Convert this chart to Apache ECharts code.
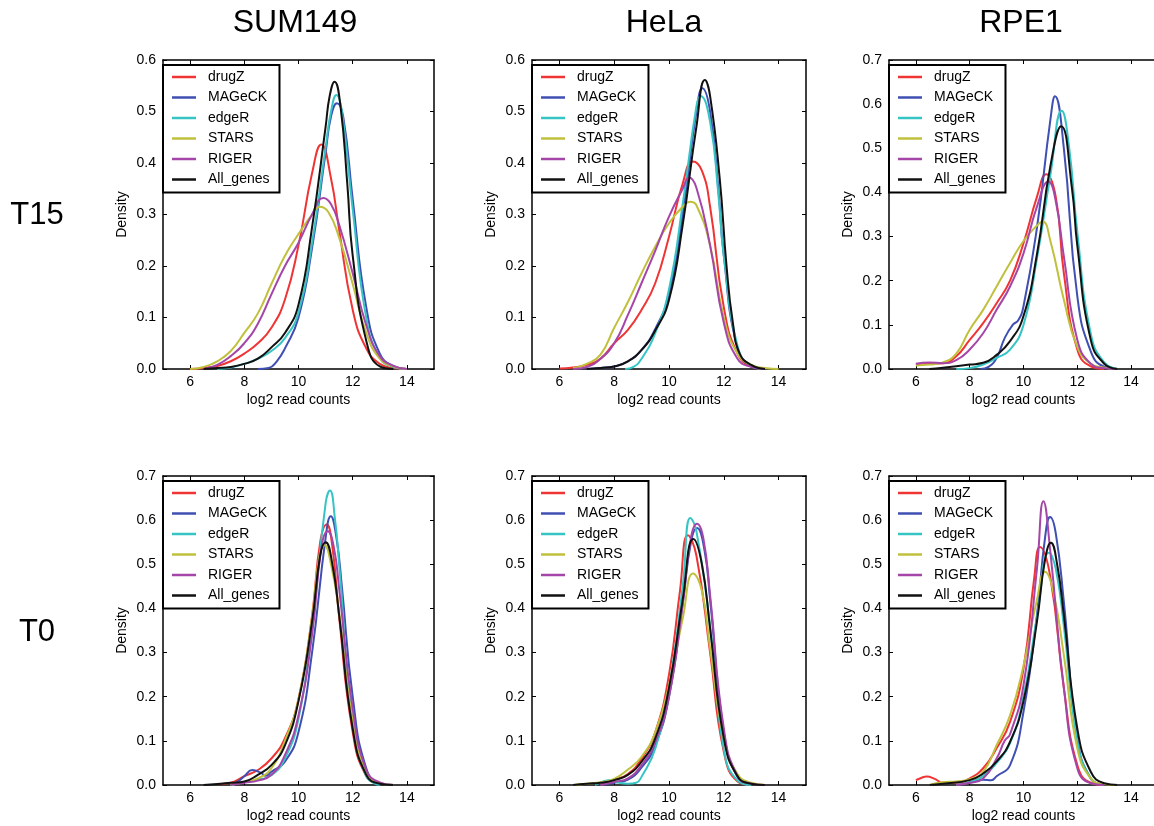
<!DOCTYPE html>
<html><head><meta charset="utf-8">
<script src="https://cdn.jsdelivr.net/npm/echarts@6/dist/echarts.min.js"></script>
<style>html,body{margin:0;padding:0;background:#fff;overflow:hidden;width:1154px;height:826px}#c{width:1200px;height:826px}</style>
</head><body><div id="c"></div>
<script>
// ---------- DATA ----------
const methods = ['drugZ', 'MAGeCK', 'edgeR', 'STARS', 'RIGER', 'All_genes'];
const cellLines = ['SUM149', 'HeLa', 'RPE1'];
const timepoints = ['T15', 'T0'];
const xTicks = [6, 8, 10, 12, 14];
const yMaxT15 = [0.6, 0.6, 0.7];
const yMaxT0 = [0.7, 0.7, 0.7];

// T15 SUM149
const T15_SUM149_drugZ = [[6,0],[6.5,0.002],[7,0.006],[7.5,0.015],[8,0.03],[8.5,0.05],[9,0.08],[9.5,0.135],[10,0.24],[10.5,0.38],[10.84,0.436],[11.2,0.37],[11.5,0.27],[12,0.115],[12.5,0.04],[13,0.01],[13.5,0.002],[14,0]];
const T15_SUM149_MAGeCK = [[8.5,0],[8.9,0.002],[9.2,0.015],[9.5,0.04],[10,0.1],[10.5,0.235],[11,0.42],[11.2,0.49],[11.42,0.516],[11.65,0.49],[12,0.33],[12.5,0.12],[13,0.03],[13.5,0.006],[14,0]];
const T15_SUM149_edgeR = [[7,0],[7.5,0.003],[8,0.01],[8.5,0.02],[9,0.035],[9.5,0.06],[10,0.11],[10.5,0.245],[11,0.43],[11.2,0.5],[11.4,0.532],[11.6,0.5],[12,0.31],[12.5,0.1],[13,0.022],[13.5,0.004],[14,0]];
const T15_SUM149_STARS = [[6,0],[6.5,0.004],[7,0.015],[7.5,0.035],[8,0.07],[8.5,0.108],[9,0.165],[9.5,0.22],[10,0.262],[10.5,0.3],[10.78,0.315],[11.1,0.305],[11.5,0.255],[12,0.165],[12.5,0.07],[13,0.02],[13.5,0.005],[14,0]];
const T15_SUM149_RIGER = [[6.5,0],[7,0.008],[7.5,0.025],[8,0.05],[8.5,0.088],[9,0.145],[9.5,0.2],[10,0.245],[10.5,0.3],[10.92,0.332],[11.2,0.32],[11.5,0.28],[12,0.186],[12.5,0.085],[13,0.025],[13.5,0.006],[14,0]];
const T15_SUM149_All_genes = [[6.5,0],[7,0.002],[7.5,0.004],[8,0.01],[8.5,0.02],[9,0.042],[9.5,0.07],[10,0.125],[10.5,0.275],[11,0.47],[11.15,0.53],[11.33,0.558],[11.55,0.51],[11.8,0.36],[12,0.22],[12.5,0.055],[13,0.005],[13.5,0]];

// T15 HeLa
const T15_HeLa_drugZ = [[6,0.001],[6.5,0.003],[7,0.008],[7.5,0.02],[8,0.05],[8.5,0.076],[9,0.115],[9.5,0.167],[10,0.257],[10.5,0.36],[10.87,0.403],[11.2,0.385],[11.5,0.315],[12,0.12],[12.5,0.03],[13,0.005],[13.5,0]];
const T15_HeLa_MAGeCK = [[7,0],[7.5,0.002],[8,0.005],[8.5,0.015],[9,0.037],[9.5,0.078],[10,0.145],[10.5,0.3],[11,0.5],[11.22,0.545],[11.5,0.5],[11.8,0.35],[12,0.22],[12.5,0.04],[13,0.006],[13.5,0]];
const T15_HeLa_edgeR = [[8.4,0],[8.7,0.004],[9,0.02],[9.5,0.07],[10,0.155],[10.5,0.32],[11,0.51],[11.15,0.53],[11.5,0.48],[11.8,0.34],[12,0.22],[12.5,0.045],[13,0.006],[13.5,0]];
const T15_HeLa_STARS = [[6.5,0.002],[7,0.01],[7.5,0.028],[8,0.08],[8.5,0.13],[9,0.186],[9.5,0.238],[10,0.283],[10.5,0.315],[10.77,0.325],[11,0.318],[11.5,0.24],[12,0.1],[12.5,0.03],[13,0.008],[13.5,0.002],[14,0]];
const T15_HeLa_RIGER = [[6.5,0],[7,0.004],[7.5,0.02],[8,0.05],[8.5,0.105],[9,0.167],[9.5,0.23],[10,0.296],[10.5,0.35],[10.73,0.372],[11,0.352],[11.5,0.24],[12,0.09],[12.5,0.02],[13,0.004],[13.5,0]];
const T15_HeLa_All_genes = [[7,0],[7.5,0.002],[8,0.005],[8.5,0.015],[9,0.037],[9.5,0.075],[10,0.134],[10.5,0.28],[11,0.47],[11.31,0.561],[11.5,0.53],[11.85,0.37],[12.1,0.2],[12.33,0.09],[12.58,0.03],[13,0.008],[13.5,0]];

// T15 RPE1
const T15_RPE1_drugZ = [[6,0.01],[6.5,0.012],[7,0.013],[7.5,0.029],[8,0.066],[8.5,0.104],[9,0.149],[9.5,0.2],[10,0.285],[10.5,0.39],[10.84,0.441],[11.2,0.39],[11.5,0.217],[12,0.044],[12.5,0.006],[13,0]];
const T15_RPE1_MAGeCK = [[8.4,0],[8.7,0.005],[9,0.025],[9.3,0.07],[9.6,0.1],[9.8,0.11],[10,0.142],[10.5,0.32],[11,0.565],[11.17,0.618],[11.5,0.5],[12,0.165],[12.5,0.04],[13,0.005],[13.5,0]];
const T15_RPE1_edgeR = [[7.5,0],[8,0.002],[8.5,0.01],[9,0.025],[9.5,0.044],[10,0.1],[10.5,0.25],[11,0.44],[11.42,0.585],[11.7,0.5],[12,0.31],[12.5,0.08],[13,0.015],[13.5,0]];
const T15_RPE1_STARS = [[6,0.008],[6.5,0.01],[7,0.015],[7.5,0.035],[8,0.089],[8.5,0.134],[9,0.187],[9.5,0.24],[10,0.29],[10.5,0.325],[10.71,0.334],[11,0.29],[11.5,0.157],[12,0.05],[12.5,0.012],[13,0.003],[13.5,0]];
const T15_RPE1_RIGER = [[6,0.012],[6.5,0.015],[7,0.013],[7.5,0.02],[8,0.044],[8.5,0.081],[9,0.134],[9.5,0.187],[10,0.262],[10.5,0.368],[10.93,0.425],[11.2,0.38],[11.5,0.255],[12,0.066],[12.5,0.012],[13,0.002],[13.5,0]];
const T15_RPE1_All_genes = [[6.5,0],[7,0.003],[8,0.01],[8.5,0.014],[9,0.032],[9.5,0.063],[10,0.12],[10.5,0.26],[11,0.46],[11.4,0.55],[11.8,0.41],[12,0.28],[12.5,0.066],[13,0.012],[13.5,0]];

// T0 SUM149
const T0_SUM149_drugZ = [[7,0.002],[7.5,0.005],[8,0.02],[8.5,0.034],[9,0.06],[9.5,0.106],[10,0.195],[10.5,0.383],[10.8,0.55],[11.04,0.59],[11.25,0.54],[11.5,0.38],[12,0.12],[12.5,0.02],[13,0.002]];
const T0_SUM149_MAGeCK = [[7.5,0],[7.7,0.005],[8,0.02],[8.3,0.034],[8.6,0.028],[8.8,0.021],[9,0.03],[9.5,0.053],[10,0.12],[10.5,0.3],[11,0.56],[11.19,0.609],[11.4,0.56],[11.6,0.45],[12,0.2],[12.5,0.038],[13,0.004],[13.5,0]];
const T0_SUM149_edgeR = [[7.5,0],[8,0.006],[8.5,0.012],[9,0.022],[9.5,0.06],[10,0.15],[10.5,0.36],[11,0.638],[11.16,0.667],[11.35,0.6],[11.5,0.5],[12,0.143],[12.5,0.02],[13,0]];
const T0_SUM149_STARS = [[7.5,0],[8,0.007],[8.5,0.015],[9,0.038],[9.5,0.1],[10,0.195],[10.5,0.38],[10.75,0.51],[10.96,0.543],[11.2,0.5],[11.5,0.39],[12,0.143],[12.5,0.03],[13,0.004],[13.5,0]];
const T0_SUM149_RIGER = [[7.5,0],[8,0.005],[8.5,0.01],[9,0.023],[9.5,0.068],[10,0.158],[10.5,0.34],[10.85,0.54],[11.08,0.575],[11.3,0.54],[11.5,0.445],[12,0.173],[12.5,0.034],[13,0.006],[13.5,0]];
const T0_SUM149_All_genes = [[6.5,0],[7,0.002],[7.5,0.005],[8,0.008],[8.5,0.023],[9,0.045],[9.5,0.09],[10,0.19],[10.5,0.37],[10.8,0.52],[11.0,0.55],[11.25,0.5],[11.5,0.385],[12,0.128],[12.5,0.023],[13,0.003],[13.5,0]];

// T0 HeLa
const T0_HeLa_drugZ = [[7.5,0],[8,0.012],[8.5,0.025],[9,0.06],[9.5,0.12],[10,0.25],[10.4,0.44],[10.69,0.566],[11,0.52],[11.5,0.3],[12,0.075],[12.5,0.008],[13,0]];
const T0_HeLa_MAGeCK = [[7.5,0],[8,0.005],[8.5,0.012],[9,0.04],[9.5,0.09],[10,0.2],[10.5,0.41],[10.8,0.55],[11.02,0.582],[11.3,0.53],[11.5,0.42],[12,0.12],[12.5,0.018],[13,0.002]];
const T0_HeLa_edgeR = [[7.3,0],[7.6,0.008],[7.8,0.011],[8.1,0.006],[8.5,0.003],[8.8,0.005],[9,0.019],[9.5,0.083],[10,0.22],[10.5,0.45],[10.78,0.605],[11,0.575],[11.5,0.36],[12,0.08],[12.5,0.01],[13,0]];
const T0_HeLa_STARS = [[6.5,0],[7,0.003],[7.5,0.006],[8,0.014],[8.5,0.035],[9,0.064],[9.5,0.12],[10,0.226],[10.5,0.377],[10.88,0.479],[11.2,0.44],[11.5,0.31],[12,0.106],[12.5,0.025],[13,0.005],[13.5,0]];
const T0_HeLa_RIGER = [[7.5,0],[8,0.007],[8.5,0.015],[9,0.045],[9.5,0.097],[10,0.2],[10.5,0.41],[10.8,0.56],[11.02,0.592],[11.25,0.56],[11.5,0.43],[12,0.128],[12.5,0.02],[13,0.003],[13.5,0]];
const T0_HeLa_All_genes = [[6.5,0],[7,0.003],[7.5,0.005],[8,0.011],[8.5,0.023],[9,0.053],[9.5,0.106],[10,0.22],[10.5,0.42],[10.89,0.557],[11.2,0.5],[11.5,0.355],[12,0.106],[12.5,0.02],[13,0.003],[13.5,0]];

// T0 RPE1
const T0_RPE1_drugZ = [[6,0.011],[6.2,0.016],[6.4,0.019],[6.7,0.014],[7,0.005],[7.5,0.005],[8,0.015],[8.5,0.038],[9,0.083],[9.5,0.143],[10,0.264],[10.4,0.47],[10.61,0.539],[11,0.47],[11.5,0.22],[12,0.045],[12.5,0.005],[13,0]];
const T0_RPE1_MAGeCK = [[7.5,0],[8,0.005],[8.5,0.012],[8.8,0.011],[9,0.02],[9.5,0.045],[10,0.166],[10.5,0.385],[10.8,0.56],[10.99,0.607],[11.2,0.57],[11.5,0.415],[12,0.106],[12.5,0.015],[13,0]];
const T0_RPE1_edgeR = [[7.5,0],[8,0.007],[8.5,0.02],[9,0.05],[9.5,0.095],[10,0.2],[10.5,0.38],[10.95,0.526],[11.2,0.49],[11.5,0.36],[12,0.1],[12.5,0.015],[13,0]];
const T0_RPE1_STARS = [[6.5,0],[7,0.006],[7.5,0.008],[8,0.013],[8.5,0.03],[9,0.09],[9.5,0.158],[10,0.27],[10.5,0.42],[10.8,0.483],[11.1,0.44],[11.5,0.294],[12,0.083],[12.5,0.015],[13,0.002],[13.5,0]];
const T0_RPE1_RIGER = [[7.5,0],[8,0.005],[8.5,0.015],[9,0.06],[9.3,0.1],[9.5,0.115],[10,0.226],[10.5,0.49],[10.74,0.643],[11,0.527],[11.5,0.22],[12,0.038],[12.5,0.004],[13,0]];
const T0_RPE1_All_genes = [[6.5,0],[7,0.003],[8,0.011],[8.5,0.026],[9,0.053],[9.5,0.098],[10,0.19],[10.5,0.37],[10.8,0.51],[11.02,0.549],[11.25,0.5],[11.5,0.385],[12,0.128],[12.5,0.03],[13,0.004],[13.5,0]];

const panelData = [
  [[T15_SUM149_drugZ,T15_SUM149_MAGeCK,T15_SUM149_edgeR,T15_SUM149_STARS,T15_SUM149_RIGER,T15_SUM149_All_genes],
   [T15_HeLa_drugZ,T15_HeLa_MAGeCK,T15_HeLa_edgeR,T15_HeLa_STARS,T15_HeLa_RIGER,T15_HeLa_All_genes],
   [T15_RPE1_drugZ,T15_RPE1_MAGeCK,T15_RPE1_edgeR,T15_RPE1_STARS,T15_RPE1_RIGER,T15_RPE1_All_genes]],
  [[T0_SUM149_drugZ,T0_SUM149_MAGeCK,T0_SUM149_edgeR,T0_SUM149_STARS,T0_SUM149_RIGER,T0_SUM149_All_genes],
   [T0_HeLa_drugZ,T0_HeLa_MAGeCK,T0_HeLa_edgeR,T0_HeLa_STARS,T0_HeLa_RIGER,T0_HeLa_All_genes],
   [T0_RPE1_drugZ,T0_RPE1_MAGeCK,T0_RPE1_edgeR,T0_RPE1_STARS,T0_RPE1_RIGER,T0_RPE1_All_genes]]
];
const yMax = [yMaxT15, yMaxT0];

// ---------- STYLE / LAYOUT ----------
const colors = ['#f03434', '#3f4fb2', '#36c4c4', '#c0c03c', '#a545a8', '#111111'];
const FONT = '"Liberation Sans", Arial, Helvetica, sans-serif';
const colLeft = [163, 532, 889];
const colWidth = [271, 274, 269];
const rowTop = [60, 476];
const gh = 309;
const titleX = [295, 664, 1021];
const rowLabelY = [215, 632];

const grid = [], xAxis = [], yAxis = [], series = [], legend = [], graphic = [];
let p = 0;
for (let r = 0; r < 2; r++) {
  for (let c = 0; c < 3; c++) {
    const L = colLeft[c], T = rowTop[r];
    grid.push({ left: L, top: T, width: colWidth[c], height: gh, show: false, outerBoundsMode: 'none' });
    const tick = { inside: true, length: 4, lineStyle: { color: '#000', width: 1 } };
    const spine = { show: true, onZero: false, lineStyle: { color: '#000', width: 1.5 } };
    const rightVisible = c < 2; // right spine of the last column lies beyond the picture
    xAxis.push({
      gridIndex: p, type: 'value', min: 5, max: 15, position: 'bottom',
      axisLine: spine, splitLine: { show: false },
      axisTick: Object.assign({ customValues: xTicks }, tick),
      axisLabel: { customValues: xTicks, fontSize: 14, color: '#000', fontFamily: FONT, margin: 6 },
      name: 'log2 read counts', nameLocation: 'middle', nameGap: 24,
      nameTextStyle: { fontSize: 14, color: '#000', fontFamily: FONT }
    });
    xAxis.push({
      gridIndex: p, type: 'value', min: 5, max: 15, position: 'top',
      axisLine: spine, splitLine: { show: false },
      axisTick: Object.assign({ customValues: xTicks }, tick),
      axisLabel: { show: false }
    });
    const ym = yMax[r][c];
    yAxis.push({
      gridIndex: p, type: 'value', min: 0, max: ym, interval: 0.1, position: 'left',
      axisLine: spine, splitLine: { show: false },
      axisTick: tick,
      axisLabel: { fontSize: 14, color: '#000', fontFamily: FONT, margin: 7, formatter: v => v.toFixed(1) },
      name: 'Density', nameLocation: 'middle', nameGap: 34,
      nameTextStyle: { fontSize: 14, color: '#000', fontFamily: FONT }
    });
    yAxis.push({
      gridIndex: p, type: 'value', min: 0, max: ym, interval: 0.1, position: 'right',
      axisLine: Object.assign({}, spine, { show: rightVisible }), splitLine: { show: false },
      axisTick: Object.assign({}, tick, { show: rightVisible }), axisLabel: { show: false }
    });
    methods.forEach((m, i) => {
      series.push({
        type: 'line', name: m, xAxisIndex: 2 * p, yAxisIndex: 2 * p,
        data: panelData[r][c][i], smooth: 0.5, symbol: 'none', showSymbol: false,
        lineStyle: { width: 2, color: colors[i] }, itemStyle: { color: colors[i] },
        silent: true, z: 2 + i * 0.01
      });
    });
    legend.push({
      left: L, top: T + 5, orient: 'vertical', data: methods, icon: 'rect',
      itemWidth: 24, itemHeight: 2.5, itemGap: 6.5, padding: [5, 10, 6, 9],
      borderColor: '#000', borderWidth: 2, backgroundColor: '#fff',
      selectedMode: false, z: 10,
      textStyle: { fontSize: 14, color: '#000', lineHeight: 14, fontFamily: FONT, padding: [0, 0, 0, 7] }
    });
    p++;
  }
}
cellLines.forEach((t, c) => graphic.push({ type: 'text', x: titleX[c], y: 23, style: { text: t, fontSize: 32, fontFamily: FONT, fill: '#000', align: 'center', verticalAlign: 'middle' } }));
timepoints.forEach((t, r) => graphic.push({ type: 'text', x: 37, y: rowLabelY[r], style: { text: t, fontSize: 31, fontFamily: FONT, fill: '#000', align: 'center', verticalAlign: 'middle' } }));

const chart = echarts.init(document.getElementById('c'), null, { renderer: 'canvas' });
chart.setOption({ animation: false, backgroundColor: '#fff', grid, xAxis, yAxis, series, legend, graphic });
</script>
</body></html>
